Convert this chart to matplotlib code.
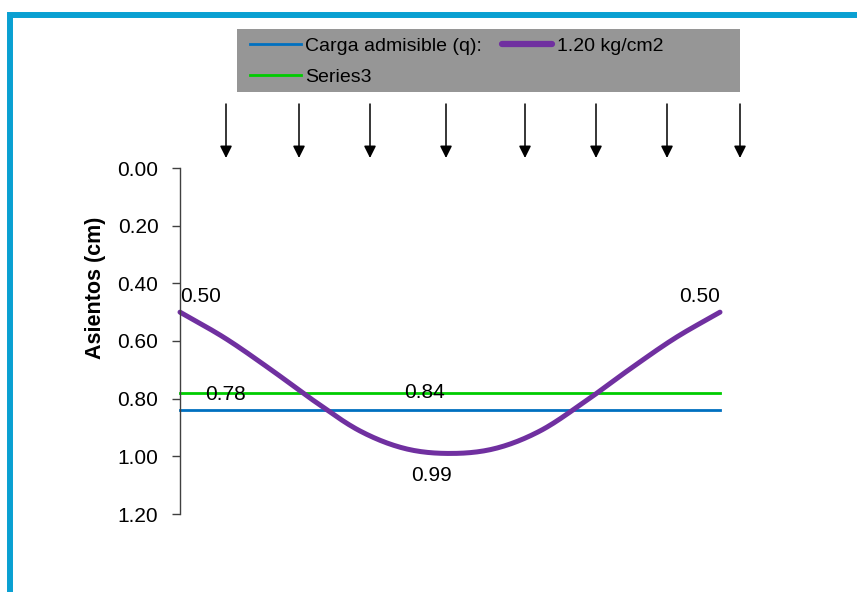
import numpy as np
import matplotlib
matplotlib.use("Agg")
import matplotlib.pyplot as plt
from matplotlib.patches import Rectangle
from matplotlib.lines import Line2D

plt.rcParams['font.family'] = ['Liberation Sans', 'DejaVu Sans']

# settlement profile (cm), 13 evenly spaced stations
stations = list(range(13))
asientos = [0.50, 0.59, 0.697, 0.81, 0.912, 0.973, 0.99, 0.973, 0.912, 0.81, 0.697, 0.59, 0.50]
carga_x = [0, 12]
carga_adm = [0.84, 0.84]
series3 = [0.78, 0.78]
y_ticks = [0.0, 0.2, 0.4, 0.6, 0.8, 1.0, 1.2]
load_arrows_px = [226, 299, 370, 446, 525, 596, 667, 740]

W, H = 857, 592


def smooth(x, y, n=20):
    # catmull-rom pass so the line looks like the excel "smoothed line"
    x = np.asarray(x, float)
    y = np.asarray(y, float)
    px = np.concatenate([[2 * x[0] - x[1]], x, [2 * x[-1] - x[-2]]])
    py = np.concatenate([[2 * y[0] - y[1]], y, [2 * y[-1] - y[-2]]])
    xs, ys = [], []
    t = np.linspace(0, 1, n, endpoint=False)
    for i in range(1, len(px) - 2):
        for p, out in ((px, xs), (py, ys)):
            p0, p1, p2, p3 = p[i - 1], p[i], p[i + 1], p[i + 2]
            out.extend(0.5 * (2 * p1 + (-p0 + p2) * t + (2 * p0 - 5 * p1 + 4 * p2 - p3) * t ** 2
                              + (-p0 + 3 * p1 - 3 * p2 + p3) * t ** 3))
    xs.append(x[-1])
    ys.append(y[-1])
    return xs, ys


fig = plt.figure(figsize=(W / 100, H / 100), dpi=100)
ax = fig.add_axes([180 / W, 1 - 514 / H, (720 - 180) / W, (514 - 168) / H])

blue = '#0070c0'
green = '#00cc00'
purple = '#7030a0'

ax.plot(carga_x, carga_adm, color=blue, lw=2.0, clip_on=False)
ax.plot(carga_x, series3, color=green, lw=2.0, clip_on=False)
sx, sy = smooth(stations, asientos)
ax.plot(sx, sy, color=purple, lw=3.6, solid_capstyle='round', clip_on=False)

ax.set_xlim(stations[0], stations[-1])
ax.set_ylim(y_ticks[-1], y_ticks[0])
ax.set_yticks(y_ticks)
ax.set_yticklabels(['{0:.2f}'.format(v) for v in y_ticks])
ax.tick_params(axis='y', direction='out', length=6, width=1, color='#404040',
               pad=9.5, labelsize=15)
ax.set_xticks([])
for s in ['top', 'right', 'bottom']:
    ax.spines[s].set_visible(False)
ax.spines['left'].set_color('#404040')
ax.spines['left'].set_linewidth(1)
ax.set_ylabel('Asientos (cm)', fontsize=15.5, fontweight='bold')
ax.yaxis.set_label_coords(-0.137, 0.653)

# data labels
ax.text(stations[0], 0.445, '{0:.2f}'.format(asientos[0]), ha='left', va='center', fontsize=15)
ax.text(stations[-1], 0.445, '{0:.2f}'.format(asientos[-1]), ha='right', va='center', fontsize=15)
ax.text(5.58, 1.068, '{0:.2f}'.format(max(asientos)), ha='center', va='center', fontsize=15)
ax.text(1.0, 0.786, '{0:.2f}'.format(series3[0]), ha='center', va='center', fontsize=15)
ax.text(5.44, 0.779, '{0:.2f}'.format(carga_adm[0]), ha='center', va='center', fontsize=15)

# load arrows
for xa in load_arrows_px:
    ax.annotate('', xy=(xa, H - 158), xytext=(xa, H - 104), xycoords='figure pixels',
                textcoords='figure pixels',
                arrowprops=dict(arrowstyle='-|>,head_length=0.6,head_width=0.3',
                                mutation_scale=12, color='black', lw=1.1,
                                shrinkA=0, shrinkB=0))

# legend box
fig.add_artist(Rectangle((237 / W, 1 - 92 / H), (740 - 237) / W, (92 - 29) / H,
                         transform=fig.transFigure, facecolor='#969696', edgecolor='none'))
handles = [Line2D([], [], color=blue, lw=2.0),
           Line2D([], [], color=green, lw=2.0),
           Line2D([], [], color=purple, lw=4.5, solid_capstyle='round')]
labels = ['Carga admisible (q):', 'Series3', '1.20 kg/cm2']
fig.legend(handles, labels, ncol=2, loc='upper left', bbox_to_anchor=(250 / W, 1 - 37 / H),
           frameon=False, fontsize=14, handlelength=2.6, handletextpad=0.25,
           columnspacing=1.0, labelspacing=0.7, borderpad=0, borderaxespad=0)

# outer border (only top and left edges are visible)
fig.add_artist(Rectangle((10 / W, -0.2), 1.2, (1 - 14.5 / H) + 0.2,
                         transform=fig.transFigure, facecolor='none',
                         edgecolor='#0aa0d2', lw=4.3))

fig.savefig('out.png', dpi=100)
